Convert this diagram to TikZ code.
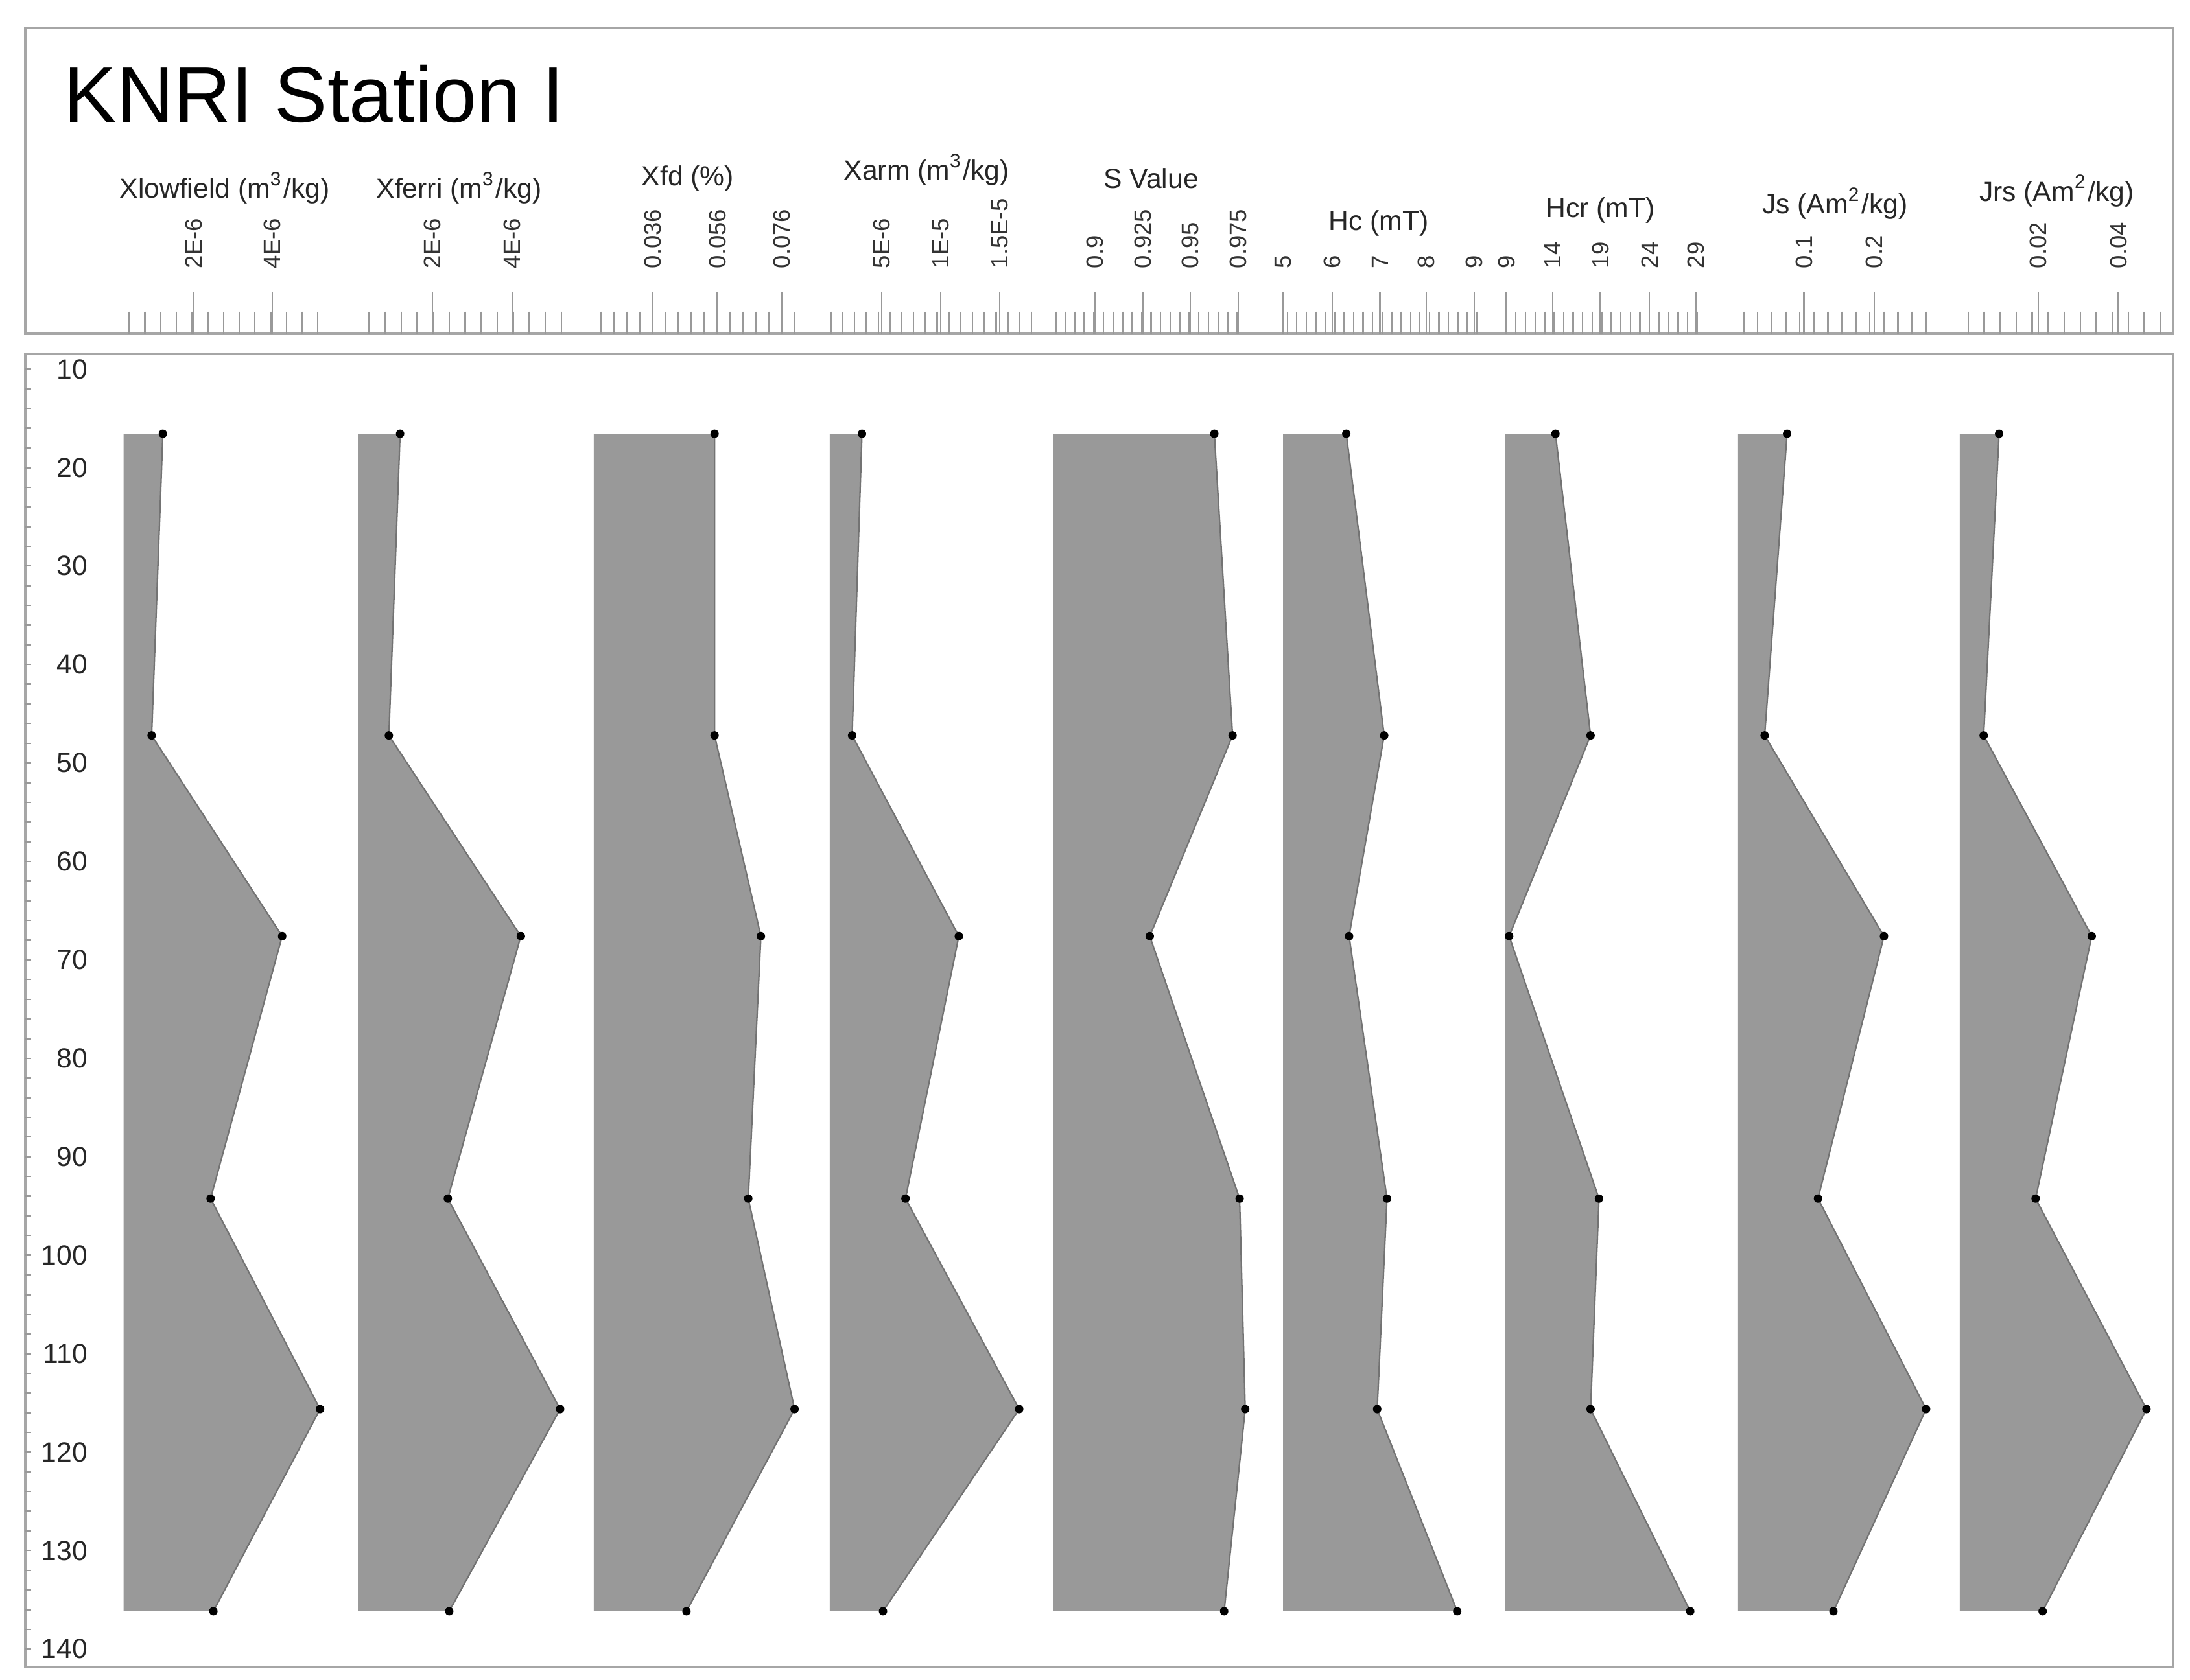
\documentclass[tikz,border=0pt]{standalone}
\usepackage{fontspec}
\setmainfont{Liberation Sans}
\begin{document}
\begin{tikzpicture}[x=0.01cm,y=-0.01cm,
  frame/.style={draw=black!35,line width=0.5pt},
  tk/.style={draw=black!40,line width=0.3pt},
  fillp/.style={fill=black!40,draw=black!55,line width=0.3pt},
  dot/.style={circle,fill=black,inner sep=0pt,minimum size=0.06cm},
  hdr/.style={font=\fontsize{5.6}{6}\selectfont,text=black!85,inner sep=0pt},
  tl/.style={font=\fontsize{4.8}{5}\selectfont,text=black!80,rotate=90,anchor=west,inner sep=0pt},
  dl/.style={font=\fontsize{5.6}{6}\selectfont,text=black!85,anchor=east,inner sep=0pt}]
\useasboundingbox (0,0) rectangle (1560,1197);
\draw[frame] (18,20) rectangle (1548,238);
\draw[frame] (18,252) rectangle (1548,1188);
\node[anchor=west,inner sep=0pt,font=\fontsize{16}{18}\selectfont] (title) at (45,67) {KNRI Station I};
% headers
\foreach \x/\y/\t [count=\i] in {160/134/{Xlowfield (m\textsuperscript{3}/kg)},327/134/{Xferri (m\textsuperscript{3}/kg)},490/127/{Xfd (\%)},660/121/{Xarm (m\textsuperscript{3}/kg)},820/127/{S Value},982/159/{Hc (mT)},1140/150/{Hcr (mT)},1307/145/{Js (Am\textsuperscript{2}/kg)},1465/136/{Jrs (Am\textsuperscript{2}/kg)}}
  \node[hdr] (h\i) at (\x,\y) {\t};
% minor ticks
\foreach \a/\s/\b in {92/11.2/230,263/11.4/401,428/9.2/567,592/8.4/731,752/6.8/883,917/6.75/1049,1073/6.8/1209,1242/10/1376,1402/11.4/1536}
  \foreach \xx in {\a,\the\numexpr0\relax}{}
;
\foreach \a/\s/\b in {92/11.2/230,263/11.4/401,428/9.2/567,592/8.4/731,752/6.8/883,917/6.75/1049,1073/6.8/1209,1242/10/1376,1402/11.4/1536}{
  \pgfmathsetmacro{\nn}{round((\b-\a)/\s)}
  \foreach \k in {0,...,\nn} \draw[tk] ({\a+\k*\s},222) -- ({\a+\k*\s},238);
}
% major ticks and labels
\foreach \x/\t [count=\i] in {138/2E-6,194/4E-6,308/2E-6,365/4E-6,465/0.036,511/0.056,557/0.076,628/5E-6,670/1E-5,712/1.5E-5,780/0.9,814/0.925,848/0.95,882/0.975,914/5,949/6,983/7,1016/8,1050/9,1073/9,1106/14,1140/19,1175/24,1208/29,1285/0.1,1335/0.2,1452/0.02,1509/0.04}{
  \draw[tk] (\x,208) -- (\x,238);
  \node[tl] (t\i) at (\x,192) {\t};
}
% depth axis
\foreach \d in {10,12,...,140} \draw[tk] (18,{263+(\d-10)*7.015}) -- (22,{263+(\d-10)*7.015});
\foreach \d [count=\i] in {10,20,...,140} \node[dl] (d\i) at (63,{263+(\d-10)*7.015}) {\d};
% profiles
\foreach \l/\pa/\pb/\pc/\pd/\pe/\pf [count=\c] in {
 88/116/108/201/150/228/152,
 255/285/277/371/319/399/320,
 423/509/509/542/533/566/489,
 591/614/607/683/645/726/629,
 750/865/878/819/883/887/872,
 914/959/986/961/988/981/1038,
 1072/1108/1133/1075/1139/1133/1204,
 1238/1273/1257/1342/1295/1372/1306,
 1396/1424/1413/1490/1450/1529/1455}{
  \fill[black!40] (\l,309) -- (\pa,309) -- (\pb,524) -- (\pc,667) -- (\pd,854) -- (\pe,1004) -- (\pf,1148) -- (\l,1148) -- cycle;
  \draw[black!55,line width=0.3pt] (\pa,309) -- (\pb,524) -- (\pc,667) -- (\pd,854) -- (\pe,1004) -- (\pf,1148);
  \node[dot] (p\c a) at (\pa,309) {};
  \node[dot] (p\c b) at (\pb,524) {};
  \node[dot] (p\c c) at (\pc,667) {};
  \node[dot] (p\c d) at (\pd,854) {};
  \node[dot] (p\c e) at (\pe,1004) {};
  \node[dot] (p\c f) at (\pf,1148) {};
}
\end{tikzpicture}
\end{document}
